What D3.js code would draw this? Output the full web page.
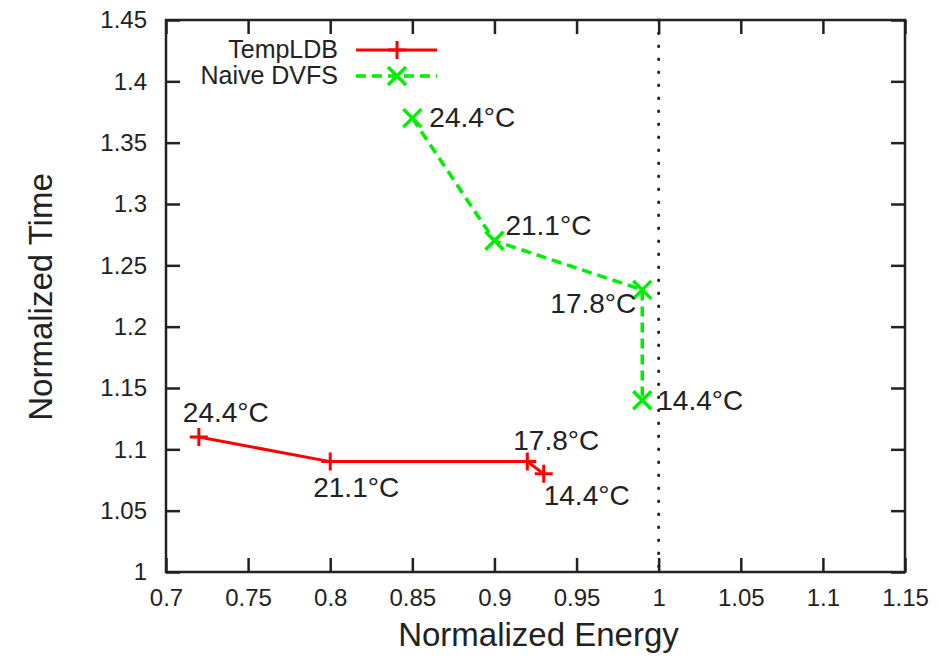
<!DOCTYPE html>
<meta charset="utf-8">
<style>
  body { margin: 0; background: #fff; }
  text { font-family: "Liberation Sans", Arial, sans-serif; fill: #222; }
</style>
<script src="https://d3js.org/d3.v7.min.js"></script>
<div id="my_dataviz"></div>
<script>

// data
var tempEnergy = [0.72, 0.80, 0.92, 0.93];
var tempTime   = [1.11, 1.09, 1.09, 1.08];
var tempLabels = ["24.4°C", "21.1°C", "17.8°C", "14.4°C"];

var naiveEnergy = [0.85, 0.90, 0.99, 0.99];
var naiveTime   = [1.37, 1.27, 1.23, 1.14];
var naiveLabels = ["24.4°C", "21.1°C", "17.8°C", "14.4°C"];

var xTicks = [0.7, 0.75, 0.8, 0.85, 0.9, 0.95, 1, 1.05, 1.1, 1.15];
var yTicks = [1, 1.05, 1.1, 1.15, 1.2, 1.25, 1.3, 1.35, 1.4, 1.45];

// label offsets in px relative to each point (anchor, dx, dy)
var tempLabelPos = [["start", -16, -15], ["start", -17, 35], ["start", -14, -12], ["start", 0, 31]];
var naiveLabelPos = [["start", 17, 9], ["start", 11, -6], ["end", -6, 23], ["start", 15, 10]];

var margin = {top: 20, right: 33, bottom: 88, left: 166},
    width = 938 - margin.left - margin.right,
    height = 660 - margin.top - margin.bottom;

var svg = d3.select("#my_dataviz")
  .append("svg")
    .attr("width", 938)
    .attr("height", 660)
  .append("g")
    .attr("transform", "translate(" + margin.left + "," + margin.top + ")");

var x = d3.scaleLinear().domain([0.7, 1.15]).range([0, width]);
var y = d3.scaleLinear().domain([1, 1.45]).range([height, 0]);

var fmt = function(d) { return d3.format("")(+d.toFixed(2)); };

// ticks on all four sides, pointing inward (gnuplot style)
var tk = 14;
svg.append("g").attr("transform", "translate(0," + height + ")")
  .call(d3.axisBottom(x).tickValues(xTicks).tickSize(-tk).tickPadding(17).tickFormat(fmt))
  .call(function(g) { g.select(".domain").remove(); g.selectAll("text").style("font-size", "24px"); });
svg.append("g")
  .call(d3.axisTop(x).tickValues(xTicks).tickSize(-tk).tickFormat(""))
  .call(function(g) { g.select(".domain").remove(); });
svg.append("g")
  .call(d3.axisLeft(y).tickValues(yTicks).tickSize(-tk).tickPadding(19).tickFormat(fmt))
  .call(function(g) { g.select(".domain").remove(); g.selectAll("text").style("font-size", "24px"); });
svg.append("g").attr("transform", "translate(" + width + ",0)")
  .call(d3.axisRight(y).tickValues(yTicks).tickSize(-tk).tickFormat(""))
  .call(function(g) { g.select(".domain").remove(); });
svg.selectAll(".tick line").attr("stroke", "#222").attr("stroke-width", 2.5);
svg.selectAll(".tick text").attr("fill", "#222");

// frame
svg.append("rect")
  .attr("width", width).attr("height", height)
  .attr("fill", "none").attr("stroke", "#222").attr("stroke-width", 2.5);

// dotted reference line at energy = 1
svg.append("line")
  .attr("x1", x(1)).attr("x2", x(1)).attr("y1", 0).attr("y2", height)
  .attr("stroke", "#222").attr("stroke-width", 3)
  .attr("stroke-dasharray", "0.5,12.5").attr("stroke-linecap", "round");

var line = d3.line().x(function(d) { return x(d[0]); }).y(function(d) { return y(d[1]); });

var tempPts = tempEnergy.map(function(e, i) { return [e, tempTime[i]]; });
var naivePts = naiveEnergy.map(function(e, i) { return [e, naiveTime[i]]; });

function plus(g, cx, cy) {
  g.append("path")
    .attr("d", "M" + (cx - 9) + "," + cy + "H" + (cx + 9) + "M" + cx + "," + (cy - 9) + "V" + (cy + 9))
    .attr("stroke", "#ff0000").attr("stroke-width", 3).attr("fill", "none");
}
function cross(g, cx, cy) {
  var s = 9;
  g.append("path")
    .attr("d", "M" + (cx - s) + "," + (cy - s) + "L" + (cx + s) + "," + (cy + s) + "M" + (cx - s) + "," + (cy + s) + "L" + (cx + s) + "," + (cy - s))
    .attr("stroke", "#00ee00").attr("stroke-width", 3.5).attr("fill", "none");
}

svg.append("path").datum(tempPts).attr("d", line)
  .attr("fill", "none").attr("stroke", "#ff0000").attr("stroke-width", 3);
svg.append("path").datum(naivePts).attr("d", line)
  .attr("fill", "none").attr("stroke", "#00ee00").attr("stroke-width", 3.5)
  .attr("stroke-dasharray", "10,6");

tempPts.forEach(function(p) { plus(svg, x(p[0]), y(p[1])); });
naivePts.forEach(function(p) { cross(svg, x(p[0]), y(p[1])); });

// point labels
tempPts.forEach(function(p, i) {
  svg.append("text")
    .attr("x", x(p[0]) + tempLabelPos[i][1]).attr("y", y(p[1]) + tempLabelPos[i][2])
    .attr("text-anchor", tempLabelPos[i][0]).style("font-size", "28px")
    .text(tempLabels[i]);
});
naivePts.forEach(function(p, i) {
  svg.append("text")
    .attr("x", x(p[0]) + naiveLabelPos[i][1]).attr("y", y(p[1]) + naiveLabelPos[i][2])
    .attr("text-anchor", naiveLabelPos[i][0]).style("font-size", "28px")
    .text(naiveLabels[i]);
});

// legend
var legend = svg.append("g").attr("transform", "translate(" + (338 - margin.left) + "," + (-margin.top) + ")");
legend.append("text").attr("x", 0).attr("y", 58).attr("text-anchor", "end")
  .style("font-size", "25px").text("TempLDB");
legend.append("line").attr("x1", 18).attr("x2", 99).attr("y1", 50).attr("y2", 50)
  .attr("stroke", "#ff0000").attr("stroke-width", 3);
plus(legend, 59, 50);
legend.append("text").attr("x", 0).attr("y", 84).attr("text-anchor", "end")
  .style("font-size", "25px").text("Naive DVFS");
legend.append("line").attr("x1", 18).attr("x2", 99).attr("y1", 76).attr("y2", 76)
  .attr("stroke", "#00ee00").attr("stroke-width", 3.5).attr("stroke-dasharray", "10,6");
cross(legend, 59, 76);

// axis titles
svg.append("text")
  .attr("x", width / 2 + 3).attr("y", height + 74)
  .attr("text-anchor", "middle").style("font-size", "33px")
  .text("Normalized Energy");
svg.append("text")
  .attr("transform", "translate(" + (52 - margin.left) + "," + (297 - margin.top) + ") rotate(-90)")
  .attr("text-anchor", "middle").style("font-size", "33px")
  .text("Normalized Time");

</script>
